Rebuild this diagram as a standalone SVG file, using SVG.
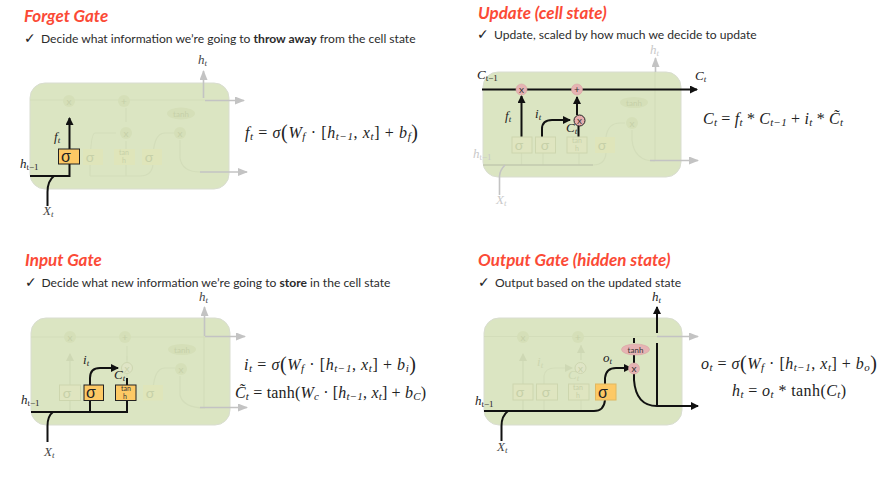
<svg xmlns="http://www.w3.org/2000/svg" width="888" height="482" viewBox="0 0 888 482">
<style>
text{font-family:"Lato","Liberation Sans",sans-serif}
.title{font-size:17px;font-weight:700;font-style:italic;fill:#fb4a36}
.sub{font-size:12.1px;fill:#2b2b2b}
.sub tspan.b{font-weight:700}
.chk{font-family:"DejaVu Sans",sans-serif;font-size:14px;fill:#222}
.cell{fill:#dbe5c2;stroke:#d9ddd0;stroke-width:1}
.g{fill:none;stroke:#d3ddba;stroke-width:1.2}
.ga{fill:none;stroke:#c3c3c3;stroke-width:1.6}
.k{fill:none;stroke:#111;stroke-width:2}
.gb{fill:#dfe5ba;stroke:none}
.gbs{fill:#dfe5c0;stroke:#cdd6ae;stroke-width:1}
.ob{fill:#fdc965;stroke:#222;stroke-width:1}
.ob2{fill:#fdc965;stroke:#e0b860;stroke-width:1}
.pk{fill:#e6b3b3;stroke:#d9a5a5;stroke-width:.6}
.gc{fill:#d5dfb8;stroke:none}
.gt{font-size:10px;fill:#c6d0a8;text-anchor:middle}
.bt{font-size:16px;fill:#222;text-anchor:middle;font-family:"Liberation Sans",sans-serif}
.st{font-size:8px;fill:#333;text-anchor:middle}
.m{font-family:"Liberation Serif",serif;font-style:italic;font-size:13px;fill:#222}
.mg{font-family:"Liberation Serif",serif;font-style:italic;font-size:13px;fill:#c9c9c9}
.m tspan,.mg tspan{font-size:9px}
.r{font-style:normal}
.eq{font-family:"Liberation Serif",serif;font-size:16px;fill:#222}
.i{font-style:italic}
.s{font-size:11px}
.p{font-size:20px}
</style>
<defs>
<marker id="ab" markerUnits="userSpaceOnUse" markerWidth="9" markerHeight="9" refX="7" refY="4" orient="auto"><path d="M0 0L8 4L0 8Z" fill="#111"/></marker>
<marker id="agr" markerUnits="userSpaceOnUse" markerWidth="11" markerHeight="9" refX="9" refY="4" orient="auto"><path d="M0 0L10 4L0 8Z" fill="#c3c3c3"/></marker>
<marker id="agl" markerUnits="userSpaceOnUse" markerWidth="9" markerHeight="9" refX="7" refY="4" orient="auto"><path d="M0 0L8 4L0 8Z" fill="#ced8b4"/></marker>
</defs>

<g id="forget-gate">
<text class="title" x="24" y="22">Forget Gate</text>
<text class="chk" x="24" y="43">✓</text>
<text class="sub" x="41" y="43">Decide what information we’re going to <tspan class="b">throw away</tspan> from the cell state</text>
<rect id="forget-cell" class="cell" x="30" y="83" width="199" height="106" rx="15"/>
<g id="forget-connectors">
<path class="g" d="M30 100H205M69 152V176M90 149V176Q90 133 95 133H116M126 122V108M126 149V141M126 149V176M153 149V165Q152 133 165 133H175M180 140V158Q182 172 200 172"/>
<path class="g" d="M90 176H140Q152 176 153 164"/>
<path class="ga" d="M203.500 98V71" marker-end="url(#agr)"/>
<path class="ga" d="M205 100.500H244" marker-end="url(#agr)"/>
<path class="ga" d="M200 172H247" marker-end="url(#agr)"/>
<path class="k" d="M30 176H69.500V118" marker-end="url(#ab)"/>
<path class="k" d="M47.500 206V192Q47.500 181 54 176"/>
</g>
<g id="forget-x1"><circle class="gc" cx="69" cy="101" r="6"/><text class="gt" x="69" y="104.500">x</text></g>
<g id="forget-plus"><circle class="gc" cx="124" cy="101" r="6"/><text class="gt" x="124" y="104.500">+</text></g>
<g id="forget-x2"><circle class="gc" cx="126" cy="133" r="6"/><text class="gt" x="126" y="136.500">x</text></g>
<g id="forget-x3"><circle class="gc" cx="180" cy="133" r="6"/><text class="gt" x="180" y="136.500">x</text></g>
<g id="forget-tanh-ell"><ellipse class="gc" cx="181" cy="113.500" rx="14" ry="6"/><text class="gt" x="181" y="117" style="font-size:8px">tanh</text></g>
<g id="forget-sigma1"><rect class="ob" x="58.500" y="149" width="21" height="15"/><text class="bt" x="66" y="162">σ</text></g>
<g id="forget-sigma2"><rect class="gb" x="83" y="149" width="20" height="16"/><text class="gt" x="90" y="162" style="font-size:14px">σ</text></g>
<g id="forget-tanh"><rect class="gb" x="114" y="149" width="21" height="16"/><text class="gt" x="124" y="155" style="font-size:7px">tan</text><text class="gt" x="124" y="163" style="font-size:7px">h</text></g>
<g id="forget-sigma3"><rect class="gb" x="142" y="149" width="20" height="16"/><text class="gt" x="149" y="162" style="font-size:14px">σ</text></g>
<text class="m" x="198" y="64" style="fill:#444">h<tspan dy="2">t</tspan></text>
<text class="m" x="54" y="141">f<tspan dy="2">t</tspan></text>
<text class="m" x="20" y="168">h<tspan class="r" dy="2">t−1</tspan></text>
<text class="m" x="43" y="215" style="fill:#444">X<tspan dy="2">t</tspan></text>
<text class="eq" x="245" y="138" textLength="173"><tspan class="i">f<tspan class="s" dy="2">t</tspan></tspan><tspan dy="-2"> = </tspan><tspan class="i">σ</tspan><tspan class="p" dy="1">(</tspan><tspan class="i" dy="-1">W<tspan class="s" dy="2">f</tspan></tspan><tspan dy="-2"> · [</tspan><tspan class="i">h<tspan class="s" dy="2">t−1</tspan></tspan><tspan dy="-2">, </tspan><tspan class="i">x<tspan class="s" dy="2">t</tspan></tspan><tspan dy="-2">] + </tspan><tspan class="i">b<tspan class="s" dy="2">f</tspan></tspan><tspan class="p" dy="-1">)</tspan></text>
</g>

<g id="update-cell-state">
<text class="title" x="478" y="19">Update (cell state)</text>
<text class="chk" x="477" y="39">✓</text>
<text class="sub" x="494" y="39">Update, scaled by how much we decide to update</text>
<rect id="update-cell" class="cell" x="483" y="72" width="198" height="105" rx="15"/>
<g id="update-connectors">
<path class="g" d="M593 165Q605 165 606 153M521.500 153V165M543 153V165M579 153V165M655 72V160M632 130V140Q634 161 655 161M606 137Q608 123 620 123H625"/>
<path d="M483 165H593" fill="none" stroke="#c2c9ae" stroke-width="1.4"/>
<path class="ga" d="M655.500 72V58" marker-end="url(#agr)"/>
<path class="ga" d="M650 160.500H698" marker-end="url(#agr)"/>
<path class="ga" d="M499.500 195V176Q500 170 505 165"/>
<path class="k" d="M482 89.500H697" marker-end="url(#ab)"/>
<path class="k" d="M521.500 137V96" marker-end="url(#ab)"/>
<path class="k" d="M542 137V129Q542 120 552 120H570" marker-end="url(#ab)"/>
<path class="k" d="M577 115V97" marker-end="url(#ab)"/>
<path class="k" d="M578.500 126V137"/>
</g>
<g id="update-x"><circle class="pk" cx="521.500" cy="89.500" r="5.500"/><text class="st" x="521.500" y="93" style="font-size:10px">x</text></g>
<g id="update-plus"><circle class="pk" cx="577" cy="89.500" r="5.500"/><text class="st" x="577" y="93" style="font-size:10px">+</text></g>
<g id="update-x2"><circle cx="579.500" cy="120.500" r="5.500" fill="#e6adad" stroke="#222" stroke-width="1"/><text class="st" x="579.500" y="124" style="font-size:10px">x</text></g>
<g id="update-x3"><circle class="gc" cx="632" cy="123" r="6"/><text class="gt" x="632" y="126.500">x</text></g>
<g id="update-tanh-ell"><ellipse class="gc" cx="634" cy="102.500" rx="14" ry="5.500"/><text class="gt" x="634" y="105.500" style="font-size:8px">tanh</text></g>
<g id="update-sigma1"><rect class="gbs" x="512" y="137" width="20" height="16"/><text class="gt" x="519" y="150" style="font-size:14px">σ</text></g>
<g id="update-sigma2"><rect class="gbs" x="535.500" y="137" width="20" height="16"/><text class="gt" x="545" y="150" style="font-size:14px">σ</text></g>
<g id="update-tanh"><rect class="gbs" x="567" y="137" width="20" height="16"/><text class="gt" x="577" y="143" style="font-size:7px">tan</text><text class="gt" x="577" y="151" style="font-size:7px">h</text></g>
<g id="update-sigma3"><rect class="gb" x="595" y="137" width="20" height="16"/><text class="gt" x="602" y="150" style="font-size:14px">σ</text></g>
<text class="mg" x="650" y="54">h<tspan dy="2">t</tspan></text>
<text class="m" x="477" y="79">C<tspan class="r" dy="2">t−1</tspan></text>
<text class="m" x="695" y="80">C<tspan dy="2">t</tspan></text>
<text class="m" x="505" y="120">f<tspan dy="2">t</tspan></text>
<text class="m" x="535" y="118">i<tspan dy="2">t</tspan></text>
<text class="m" x="566" y="132">C<tspan dy="2">t</tspan></text>
<text class="mg" x="473" y="158">h<tspan class="r" dy="2">t−1</tspan></text>
<text class="mg" x="496" y="204">X<tspan dy="2">t</tspan></text>
<text class="eq" x="703" y="124" textLength="140"><tspan class="i">C<tspan class="s" dy="2">t</tspan></tspan><tspan dy="-2"> = </tspan><tspan class="i">f<tspan class="s" dy="2">t</tspan></tspan><tspan dy="-2"> * </tspan><tspan class="i">C<tspan class="s" dy="2">t−1</tspan></tspan><tspan dy="-2"> + </tspan><tspan class="i">i<tspan class="s" dy="2">t</tspan></tspan><tspan dy="-2"> * </tspan><tspan class="i">C̃<tspan class="s" dy="2">t</tspan></tspan></text>
</g>

<g id="input-gate">
<text class="title" x="25" y="266">Input Gate</text>
<text class="chk" x="25" y="287">✓</text>
<text class="sub" x="41.500" y="287">Decide what new information we’re going to <tspan class="b">store</tspan> in the cell state</text>
<rect id="input-cell" class="cell" x="31" y="318" width="199" height="107" rx="15"/>
<g id="input-connectors">
<path class="g" d="M31 337H205M127 378V356M70 385V358M70 400V412M153 400Q152 368 165 368H175M180 376V395Q183 408 205 408M204 336V408"/>
<path class="g" d="M70 410V354" marker-end="url(#agl)"/>
<path class="g" d="M127 360V346"/>
<path class="ga" d="M204.500 336V307" marker-end="url(#agr)"/>
<path class="ga" d="M205 336.500H245" marker-end="url(#agr)"/>
<path class="ga" d="M200 407.500H247" marker-end="url(#agr)"/>
<path class="k" d="M31 412H127V400"/>
<path class="k" d="M90 412V400"/>
<path class="k" d="M90 385V378Q90 368 100 368H118" marker-end="url(#ab)"/>
<path class="k" d="M127 385V378"/>
<path class="k" d="M47.500 442V426Q47.500 416 53 412"/>
</g>
<g id="input-x1"><circle class="gc" cx="70" cy="337" r="6"/><text class="gt" x="70" y="340.500">x</text></g>
<g id="input-plus"><circle class="gc" cx="125" cy="337" r="6"/><text class="gt" x="125" y="340.500">+</text></g>
<g id="input-x2"><circle cx="127" cy="368" r="5.500" fill="#dfe5c6" stroke="#cdd6b0" stroke-width="1"/><text class="gt" x="127" y="371.500">x</text></g>
<g id="input-x3"><circle class="gc" cx="181" cy="369" r="6"/><text class="gt" x="181" y="372.500">x</text></g>
<g id="input-tanh-ell"><ellipse class="gc" cx="182" cy="349.500" rx="14" ry="5.500"/><text class="gt" x="182" y="352.500" style="font-size:8px">tanh</text></g>
<g id="input-sigma1"><rect class="gbs" x="59.500" y="385" width="21" height="15.500"/><text class="gt" x="67" y="398" style="font-size:14px">σ</text></g>
<g id="input-sigma2"><rect class="ob" x="84" y="385" width="19.500" height="15.500"/><text class="bt" x="91" y="398">σ</text></g>
<g id="input-tanh"><rect class="ob" x="115.500" y="385" width="20.500" height="15.500"/><text class="st" x="126" y="390.500" style="font-size:7px">tan</text><text class="st" x="125" y="399" style="font-size:7px">h</text></g>
<g id="input-sigma3"><rect class="gb" x="143" y="385" width="20" height="15.500"/><text class="gt" x="150" y="398" style="font-size:14px">σ</text></g>
<text class="m" x="199" y="301" style="fill:#444">h<tspan dy="2">t</tspan></text>
<text class="m" x="83" y="364">i<tspan dy="2">t</tspan></text>
<text class="m" x="114" y="379">C<tspan dy="2">t</tspan></text>
<text class="m" x="21" y="404">h<tspan class="r" dy="2">t−1</tspan></text>
<text class="m" x="44" y="456" style="fill:#444">X<tspan dy="2">t</tspan></text>
<text class="eq" x="244" y="370" textLength="172"><tspan class="i">i<tspan class="s" dy="2">t</tspan></tspan><tspan dy="-2"> = </tspan><tspan class="i">σ</tspan><tspan class="p" dy="1">(</tspan><tspan class="i" dy="-1">W<tspan class="s" dy="2">f</tspan></tspan><tspan dy="-2"> · [</tspan><tspan class="i">h<tspan class="s" dy="2">t−1</tspan></tspan><tspan dy="-2">, </tspan><tspan class="i">x<tspan class="s" dy="2">t</tspan></tspan><tspan dy="-2">] + </tspan><tspan class="i">b<tspan class="s" dy="2">i</tspan></tspan><tspan class="p" dy="-1">)</tspan></text>
<text class="eq" x="235" y="398" textLength="191"><tspan class="i">C̃<tspan class="s" dy="2">t</tspan></tspan><tspan dy="-2"> = tanh(</tspan><tspan class="i">W<tspan class="s" dy="2">c</tspan></tspan><tspan dy="-2"> · [</tspan><tspan class="i">h<tspan class="s" dy="2">t−1</tspan></tspan><tspan dy="-2">, </tspan><tspan class="i">x<tspan class="s" dy="2">t</tspan></tspan><tspan dy="-2">] + </tspan><tspan class="i">b<tspan class="s" dy="2">C</tspan></tspan><tspan dy="-2">)</tspan></text>
</g>

<g id="output-gate">
<text class="title" x="478" y="266">Output Gate (hidden state)</text>
<text class="chk" x="478" y="287">✓</text>
<text class="sub" x="495" y="287">Output based on the updated state</text>
<rect id="output-cell" class="cell" x="484" y="318" width="198" height="107" rx="15"/>
<g id="output-connectors">
<path class="g" d="M484 336.500H657M581 360V345M523 384V356M523 400V411M544 400V411M581 400V411"/>
<path class="g" d="M523 410V354" marker-end="url(#agl)"/>
<path class="g" d="M544 384V376Q545 368 555 368H572" marker-end="url(#agl)"/>
<path class="g" d="M581 360V346" marker-end="url(#agl)"/>
<path class="ga" d="M657 336.500H698" marker-end="url(#agr)"/>
<path class="k" d="M484 411H594Q604 411 605 400"/>
<path class="k" d="M605 384V378Q606 368 616 368H631" marker-end="url(#ab)"/>
<path class="k" d="M634 338V343M634 355V363"/>
<path class="k" d="M634 374V380Q636 406 657 406H698" marker-end="url(#ab)"/>
<path class="k" d="M657 406V343"/>
<path class="k" d="M657 333V307" marker-end="url(#ab)"/>
<path class="k" d="M501.500 441V426Q501.500 416 508 411"/>
</g>
<g id="output-x1"><circle class="gc" cx="523" cy="337" r="6"/><text class="gt" x="523" y="340.500">x</text></g>
<g id="output-plus"><circle class="gc" cx="578" cy="337" r="6"/><text class="gt" x="578" y="340.500">+</text></g>
<g id="output-x2"><circle cx="580.500" cy="368" r="5.500" fill="#dfe5c6" stroke="#cdd6b0" stroke-width="1"/><text class="gt" x="580.500" y="371.500">x</text></g>
<g id="output-x3"><circle class="pk" cx="634" cy="368.500" r="5.500"/><text class="st" x="634" y="372" style="font-size:10px">x</text></g>
<g id="output-tanh-ell"><ellipse class="pk" cx="635.500" cy="349.500" rx="14" ry="5.500"/><text class="st" x="635.500" y="352.500">tanh</text></g>
<g id="output-sigma1"><rect class="gbs" x="513" y="384" width="20" height="16"/><text class="gt" x="520" y="397" style="font-size:14px">σ</text></g>
<g id="output-sigma2"><rect class="gbs" x="536.500" y="384" width="21" height="16"/><text class="gt" x="546" y="397" style="font-size:14px">σ</text></g>
<g id="output-tanh"><rect class="gbs" x="568.500" y="384" width="20.500" height="16"/><text class="gt" x="578" y="390" style="font-size:7px">tan</text><text class="gt" x="578" y="398" style="font-size:7px">h</text></g>
<g id="output-sigma3"><rect class="ob2" x="595.500" y="384" width="20.500" height="16"/><text class="bt" x="603" y="398">σ</text></g>
<text class="m" x="652" y="301">h<tspan dy="2">t</tspan></text>
<text class="m" x="603" y="362">o<tspan dy="2">t</tspan></text>
<text class="mg" x="537" y="366" style="fill:#ccd6b0">i<tspan dy="2">t</tspan></text>
<text class="mg" x="568" y="379" style="fill:#ccd6b0">C<tspan dy="2">t</tspan></text>
<text class="m" x="475" y="405">h<tspan class="r" dy="2">t−1</tspan></text>
<text class="m" x="497" y="451" style="fill:#444">X<tspan dy="2">t</tspan></text>
<text class="eq" x="701" y="369" textLength="176"><tspan class="i">o<tspan class="s" dy="2">t</tspan></tspan><tspan dy="-2"> = </tspan><tspan class="i">σ</tspan><tspan class="p" dy="1">(</tspan><tspan class="i" dy="-1">W<tspan class="s" dy="2">f</tspan></tspan><tspan dy="-2"> · [</tspan><tspan class="i">h<tspan class="s" dy="2">t−1</tspan></tspan><tspan dy="-2">, </tspan><tspan class="i">x<tspan class="s" dy="2">t</tspan></tspan><tspan dy="-2">] + </tspan><tspan class="i">b<tspan class="s" dy="2">o</tspan></tspan><tspan class="p" dy="-1">)</tspan></text>
<text class="eq" x="732" y="396" textLength="114"><tspan class="i">h<tspan class="s" dy="2">t</tspan></tspan><tspan dy="-2"> = </tspan><tspan class="i">o<tspan class="s" dy="2">t</tspan></tspan><tspan dy="-2"> * tanh(</tspan><tspan class="i">C<tspan class="s" dy="2">t</tspan></tspan><tspan dy="-2">)</tspan></text>
</g>
</svg>
